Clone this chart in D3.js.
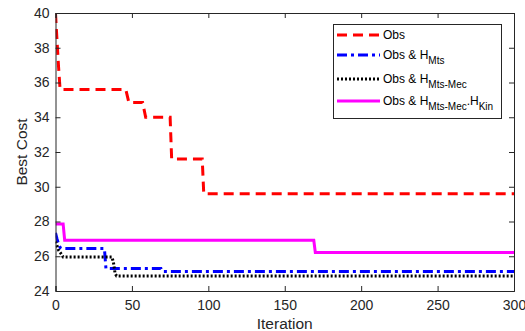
<!DOCTYPE html>
<html><head><meta charset="utf-8">
<script src="https://cdn.jsdelivr.net/npm/d3@7"></script>
<style>body{margin:0;background:#fff}svg{display:block;font-family:"Liberation Sans",Arial,sans-serif}</style>
</head><body><svg id="c" width="525" height="331"></svg>
<script>
// Data: step series [iteration, best cost]
const obs = [[0,40],[1,38.4],[2,36.9],[3,35.6],[46,35.6],[48,34.85],[57,34.85],[59,34.0],[75,34.0],[76,31.6],[96,31.6],[97,29.6],[300,29.6]];
const obsMts = [[0,27.35],[1,27.0],[2,26.7],[3,26.5],[4,26.45],[32,26.45],[33,25.3],[69,25.3],[70,25.12],[300,25.12]];
const obsMtsMec = [[0,26.85],[1,26.6],[2,26.35],[4,26.1],[5,25.95],[37,25.95],[38,25.6],[39,25.0],[40,24.87],[300,24.87]];
const obsKin = [[0,27.85],[5,27.85],[6,26.92],[169,26.92],[170,26.22],[300,26.22]];
const xTicks = [0,50,100,150,200,250,300];
const yTicks = [24,26,28,30,32,34,36,38,40];

const svg = d3.select("#c");
const L=55.5, R=514, T=13, B=291;
const x = d3.scaleLinear().domain([0,300]).range([L,R]);
const y = d3.scaleLinear().domain([24,40]).range([B,T]);
const ax = "#262626";

const clipId="clip";
svg.append("clipPath").attr("id",clipId).append("rect").attr("x",L).attr("y",T-2).attr("width",R-L).attr("height",B-T+2);

const line = d3.line().x(d=>x(d[0])).y(d=>y(d[1]));
const series = [
  {d:obs, c:"#ff0000", dash:"10,6"},
  {d:obsKin, c:"#ff00ff", dash:null},
  {d:obsMts, c:"#0000ff", dash:"10,4,3,4"},
  {d:obsMtsMec, c:"#000000", dash:"2,2"}
];
const g = svg.append("g").attr("clip-path","url(#"+clipId+")");
series.forEach(s=>{
  g.append("path").attr("d",line(s.d)).attr("fill","none").attr("stroke",s.c)
   .attr("stroke-width",3).attr("stroke-dasharray",s.dash);
});

// Axes
const xb = svg.append("g").attr("transform",`translate(0,${B})`)
  .call(d3.axisBottom(x).tickValues(xTicks).tickSize(-5).tickPadding(9));
const yl = svg.append("g").attr("transform",`translate(${L},0)`)
  .call(d3.axisLeft(y).tickValues(yTicks).tickSize(-5).tickPadding(6));
const xt = svg.append("g").attr("transform",`translate(0,${T})`)
  .call(d3.axisTop(x).tickValues(xTicks).tickSize(-5).tickFormat(""));
const yr = svg.append("g").attr("transform",`translate(${R},0)`)
  .call(d3.axisRight(y).tickValues(yTicks).tickSize(-5).tickFormat(""));
[xb,yl,xt,yr].forEach(a=>{
  a.select(".domain").attr("stroke",ax).attr("stroke-width",1);
  a.selectAll(".tick line").attr("stroke",ax);
  a.selectAll("text").attr("fill",ax).style("font-size","14px").style("font-family",'"Liberation Sans",Arial,sans-serif');
});

svg.append("text").attr("x",(L+R)/2).attr("y",329).attr("text-anchor","middle")
  .attr("fill",ax).style("font-size","15.5px").text("Iteration");
svg.append("text").attr("transform",`translate(27,${(T+B)/2}) rotate(-90)`).attr("text-anchor","middle")
  .attr("fill",ax).style("font-size","15.5px").text("Best Cost");

// Legend
const lg = svg.append("g");
lg.append("rect").attr("x",333.5).attr("y",24.5).attr("width",168).attr("height",94)
  .attr("fill","#fff").attr("stroke",ax).attr("stroke-width",1);
const items = [
  {s:series[0], parts:[["Obs",0]], y:35},
  {s:series[2], parts:[["Obs & H",0],["Mts",1]], y:55},
  {s:series[3], parts:[["Obs & H",0],["Mts-Mec",1]], y:79},
  {s:series[1], parts:[["Obs & H",0],["Mts-Mec",1],[".H",0],["Kin",1]], y:101}
];
items.forEach(it=>{
  lg.append("line").attr("x1",337).attr("x2",380).attr("y1",it.y).attr("y2",it.y)
    .attr("stroke",it.s.c).attr("stroke-width",3).attr("stroke-dasharray",it.s.dash);
  const t = lg.append("text").attr("x",383).attr("y",it.y+4).attr("fill","#000").style("font-size","12px");
  it.parts.forEach(p=>{
    const ts = t.append("tspan").text(p[0]);
    if(p[1]) ts.style("font-size","10px").attr("dy",5);
    else ts.attr("dy", t.selectAll("tspan").size()>1 ? -5 : 0);
  });
});
</script></body></html>
